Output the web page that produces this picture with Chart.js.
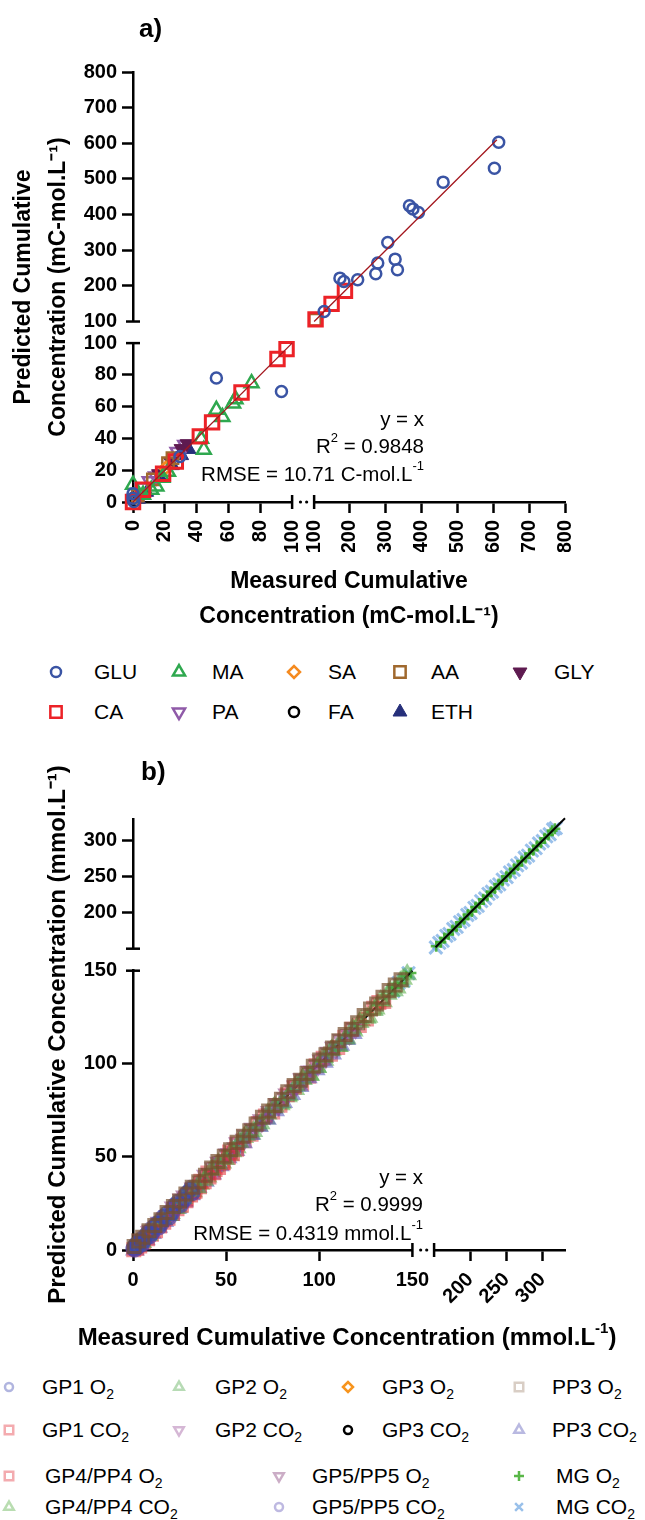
<!DOCTYPE html>
<html>
<head>
<meta charset="utf-8">
<script src="https://cdn.jsdelivr.net/npm/chart.js@4.4.1/dist/chart.umd.min.js"></script>
<style>
  html, body { margin: 0; padding: 0; background: #fff; }
  body { width: 645px; height: 1520px; position: relative; overflow: hidden; font-family: "Liberation Sans", Arial, Helvetica, sans-serif; }
  .panel { position: absolute; left: 0; width: 645px; }
  .legend { position: absolute; left: 0; width: 645px; }
  .legend .item { position: absolute; height: 24px; line-height: 24px; font-size: 21px; color: #000; white-space: nowrap; }
  .legend canvas { position: absolute; }
  .legend sub { font-size: 14px; vertical-align: -5px; line-height: 0; }
</style>
</head>
<body>
<div class="panel" style="top:0;height:640px"><canvas id="chartA"></canvas></div>
<div class="legend" id="legendA" style="top:640px;height:95px"></div>
<div class="panel" style="top:735px;height:635px"><canvas id="chartB"></canvas></div>
<div class="legend" id="legendB" style="top:1370px;height:150px"></div>
<script>
// ---- panel a: carbon per compound, measured vs predicted (mC-mol/L) ----
const gluMeasured  = [0, 0, 0.5, 29.5, 52.4, 93.3, 128, 172, 183, 221.5, 272, 277.5, 305.5, 326, 332.5, 366, 375.5, 391, 460, 603, 615];
const gluPredicted = [5.2, 2.4, 0.3, 28.7, 78.0, 69.6, 128, 221.7, 212, 217, 234, 264, 321.5, 275, 245, 425, 416, 406, 491, 530, 603];
const maMeasured   = [0, 6.3, 11.5, 14.7, 18.5, 22, 42.8, 44.5, 52.4, 56.2, 62.9, 64.4, 74.5];
const maPredicted  = [10.9, 4.6, 7.7, 9.8, 15.2, 19, 39.8, 32.9, 58.0, 53.5, 62.0, 64.7, 74.8];
const saMeasured   = [2.2, 20.5];
const saPredicted  = [2.9, 21.4];
const aaMeasured   = [3, 12.5, 22, 24.8, 102.5];
const aaPredicted  = [4, 14.2, 24.5, 27.6, 105];
const glyMeasured  = [16, 23.5, 30.2, 34];
const glyPredicted = [17.8, 25.5, 33.6, 36.7];
const caMeasured   = [0, 6.3, 18.9, 26.9, 42, 49.7, 68.2, 90.8, 96.5, 104, 148.7, 186];
const caPredicted  = [0, 7.7, 17.8, 25.5, 41.3, 50.1, 68.9, 90, 96.2, 106, 149.6, 186];
const paMeasured   = [6, 10.5, 14.5, 28, 32.8];
const paPredicted  = [9.2, 13, 16, 31.5, 35.8];
const faMeasured   = [1.2];
const faPredicted  = [0.8];
const ethMeasured  = [3.5, 8.6, 17.2, 24.8, 30.6, 35.2];
const ethPredicted = [1.8, 6.1, 15.3, 22.9, 29.2, 33.1];

const ticksALow  = [0, 20, 40, 60, 80, 100];
const ticksAHigh = [100, 200, 300, 400, 500, 600, 700, 800];
const identityALow  = [0, 100];
const identityAHigh = [100, 610];

// ---- panel b: gas phase, measured vs predicted (mmol/L) ----
const gp1O2Measured   = [0.3, 1.2, 2.5, 4.1, 5.8, 7.9, 10.2, 12.6, 15.3, 18.1, 21.0, 24.2, 27.5, 30.8,
                         0.9, 1.8, 3.2, 4.9, 6.8, 9.0, 11.4, 13.9, 16.7, 19.5, 22.6, 25.8, 29.1, 31.9];
const gp1O2Predicted  = [1.1, 2.4, 1.6, 5.3, 4.9, 9.2, 9.0, 14.1, 14.2, 19.6, 19.8, 25.9, 27.0, 32.4,
                         0.2, 3.3, 3.9, 3.1, 7.9, 7.4, 12.6, 12.1, 18.0, 17.4, 24.1, 24.2, 30.7, 30.5];
const gp2O2Measured   = [1.8, 8.4, 15.9, 23.1, 30.6, 38.2, 45.7, 53.4, 60.8, 68.5, 76.1, 83.7, 91.2, 98.9, 106.4, 114.0, 121.7, 129.3, 136.8, 143.5,
                         5.0, 12.2, 19.4, 26.9, 34.4, 42.0, 49.5, 57.1, 64.6, 72.3, 79.9, 87.5, 95.0, 102.6, 110.2, 117.9, 125.5, 133.0, 140.1, 147.2];
const gp2O2Predicted  = [2.6, 7.9, 16.8, 22.4, 31.5, 37.6, 46.3, 52.9, 61.7, 68.0, 76.9, 83.1, 92.0, 98.3, 107.2, 113.4, 122.3, 128.8, 137.5, 144.1,
                         4.1, 13.0, 18.6, 27.8, 33.5, 42.9, 48.7, 58.0, 63.8, 73.2, 79.0, 88.4, 94.1, 103.5, 109.4, 118.8, 124.6, 134.0, 139.3, 147.9];
const gp3O2Measured   = [0.8, 2.9, 5.5];
const gp3O2Predicted  = [1.2, 2.6, 5.9];
const pp3O2Measured   = [0.6, 5.2, 11.7, 18.3, 25.0, 31.8, 38.9, 45.6, 52.4, 59.3, 66.1, 72.8, 79.7, 86.5, 93.4, 100.2, 107.1, 113.9, 120.6, 127.5, 134.2, 140.8,
                         3.1, 8.6, 15.0, 21.7, 28.4, 35.3, 42.2, 49.0, 55.9, 62.7, 69.5, 76.2, 83.1, 90.0, 96.8, 103.6, 110.5, 117.2, 124.1, 130.8, 137.5, 143.9];
const pp3O2Predicted  = [1.9, 6.8, 13.1, 20.2, 26.3, 33.7, 40.2, 47.5, 53.8, 61.1, 67.6, 74.7, 81.0, 88.4, 94.8, 102.0, 108.5, 115.7, 122.1, 129.4, 135.8, 142.3,
                         4.9, 10.3, 16.2, 23.4, 30.1, 36.6, 44.0, 50.3, 57.8, 64.1, 71.3, 77.6, 85.0, 91.2, 98.7, 104.9, 112.4, 118.6, 126.0, 132.1, 139.3, 145.2];
const gp1CO2Measured  = [0.4, 3.6, 7.8, 12.1, 16.5, 21.2, 26.0, 30.9, 35.7, 40.8, 45.9, 51.2, 55.6,
                         2.0, 5.7, 9.9, 14.3, 18.8, 23.6, 28.4, 33.3, 38.2, 43.3, 48.5, 53.4];
const gp1CO2Predicted = [0.1, 2.2, 6.0, 10.4, 14.9, 19.6, 24.1, 29.5, 34.0, 39.2, 44.3, 49.8, 54.1,
                         1.0, 4.3, 8.4, 12.9, 17.0, 22.1, 26.5, 31.6, 36.7, 41.5, 46.9, 51.7];
const gp2CO2Measured  = [4.7, 13.2, 21.8, 30.5, 39.1, 47.6, 56.3, 64.9, 73.4, 82.0, 90.7, 99.3, 107.8, 116.2,
                         9.0, 17.5, 26.1, 34.8, 43.3, 52.0, 60.6, 69.1, 77.7, 86.3, 95.0, 103.5, 112.0, 119.5];
const gp2CO2Predicted = [5.5, 12.7, 22.9, 30.1, 40.0, 47.2, 57.4, 64.5, 74.3, 81.6, 91.8, 98.9, 108.7, 115.6,
                         9.8, 17.0, 27.2, 34.2, 44.1, 51.5, 61.6, 68.6, 78.5, 85.7, 96.0, 103.0, 112.9, 119.0];
const gp3CO2Measured  = [0.5, 1.6];
const gp3CO2Predicted = [0.3, 1.9];
const pp3CO2Measured  = [1.0, 6.9, 13.5, 20.2, 27.4, 34.7, 42.5, 50.8, 59.1, 67.6, 76.3, 85.0, 93.8, 102.5, 111.3, 118.0,
                         4.0, 10.2, 16.8, 23.8, 31.0, 38.6, 46.6, 55.0, 63.3, 71.9, 80.6, 89.4, 98.1, 106.9, 114.6];
const pp3CO2Predicted = [0.2, 5.6, 12.4, 18.8, 26.1, 33.9, 41.0, 49.7, 57.8, 66.4, 74.9, 83.7, 92.6, 101.0, 110.1, 116.4,
                         2.9, 9.0, 15.4, 22.6, 29.8, 37.1, 45.4, 53.6, 62.2, 70.4, 79.3, 88.0, 96.9, 105.4, 113.2];
const gp4O2Measured   = [28.6, 36.4, 44.1, 51.9, 59.7, 67.2, 75.0, 82.8, 90.5, 98.3, 106.0, 113.7, 121.5, 129.2, 134.6,
                         32.5, 40.2, 48.0, 55.8, 63.4, 71.1, 78.9, 86.6, 94.4, 102.1, 109.9, 117.6, 125.3, 132.0];
const gp4O2Predicted  = [27.5, 36.9, 43.2, 52.6, 58.7, 67.9, 74.1, 83.4, 89.6, 98.9, 105.2, 114.3, 120.6, 129.8, 133.4,
                         31.0, 41.3, 46.9, 56.9, 62.2, 72.0, 77.8, 87.5, 93.3, 103.0, 108.8, 118.5, 124.1, 132.9];
const gp5O2Measured   = [9.6, 18.8, 27.9, 37.1, 46.2, 55.4, 64.5, 73.7, 82.8, 92.0, 101.1, 109.5,
                         14.2, 23.3, 32.5, 41.6, 50.8, 59.9, 69.1, 78.2, 87.4, 96.5, 105.3];
const gp5O2Predicted  = [10.5, 18.2, 28.8, 36.5, 47.0, 54.8, 65.3, 73.1, 83.6, 91.4, 101.9, 109.0,
                         14.8, 22.7, 33.2, 41.0, 51.4, 59.3, 69.8, 77.6, 88.0, 95.9, 106.1];
const mgO2Measured    = [140.5, 143.8, 146.7, 149.2, 153.0, 159.4, 164.2, 170.1, 175.6, 180.9, 186.3, 191.4, 197.0, 202.2, 207.5, 212.8, 218.1, 223.5, 228.7, 234.0, 239.4, 244.6, 250.0, 255.2, 260.7, 265.9, 271.2, 276.5, 281.8, 287.1, 292.4, 297.6, 302.9, 308.1, 313.2, 317.0];
const mgO2Predicted   = [140.9, 143.3, 147.2, 148.8, 153.4, 159.0, 164.8, 169.7, 176.1, 180.5, 186.8, 191.0, 197.4, 201.8, 208.0, 212.3, 218.6, 223.1, 229.2, 233.6, 239.9, 244.2, 250.4, 254.8, 261.1, 265.4, 271.7, 276.0, 282.2, 286.7, 292.9, 297.2, 303.3, 307.7, 313.6, 316.6];
const gp4CO2Measured  = [20.4, 28.3, 36.1, 44.0, 51.8, 59.7, 67.5, 75.4, 83.2, 91.1, 98.9, 106.8, 114.6, 122.5, 130.3, 138.2, 145.0,
                         24.3, 32.2, 40.0, 47.9, 55.7, 63.6, 71.4, 79.3, 87.1, 95.0, 102.8, 110.7, 118.5, 126.4, 134.2, 141.6];
const gp4CO2Predicted = [19.8, 29.0, 35.4, 44.8, 51.0, 60.5, 66.8, 76.2, 82.5, 91.9, 98.2, 107.6, 113.9, 123.3, 129.6, 138.9, 145.6,
                         23.1, 31.4, 39.3, 46.8, 55.0, 62.5, 70.6, 78.2, 86.3, 93.9, 102.1, 109.5, 117.8, 125.2, 133.5, 140.8];
const gp5CO2Measured  = [0.2, 1.9, 3.8, 6.1, 8.7, 11.4, 14.2, 17.3, 20.5, 23.8, 27.2, 30.1, 32.4,
                         1.0, 2.8, 4.9, 7.4, 10.0, 12.8, 15.7, 18.9, 22.1, 25.5, 28.6, 31.3];
const gp5CO2Predicted = [0.6, 1.3, 4.6, 5.4, 9.5, 10.8, 15.1, 16.6, 21.4, 23.0, 28.3, 30.9, 31.8,
                         2.1, 3.0, 6.2, 6.8, 11.6, 12.3, 17.4, 18.2, 24.0, 24.9, 30.2, 33.6];
const mgCO2Measured   = [139.8, 142.6, 145.3, 147.9, 152.4, 157.1, 161.8, 166.9, 171.3, 176.5, 181.2, 186.0, 190.7, 195.9, 200.4, 205.8, 210.3, 215.1, 220.6, 225.2, 230.0, 235.4, 240.1, 244.9, 250.3, 255.0, 260.2, 264.8, 270.1, 275.3, 280.0, 285.2, 290.4, 295.1, 300.3, 305.0, 309.8, 314.6, 318.2];
const mgCO2Predicted  = [139.1, 143.4, 144.6, 148.7, 151.6, 158.0, 160.9, 167.8, 170.4, 177.3, 180.3, 186.9, 189.8, 196.8, 199.5, 206.7, 209.4, 216.0, 219.7, 226.1, 229.1, 236.3, 239.2, 245.8, 249.4, 255.9, 259.3, 265.7, 269.2, 276.2, 279.1, 286.1, 289.5, 296.0, 299.4, 305.9, 308.9, 315.5, 317.3];

const ticksBLow  = [0, 50, 100, 150];
const ticksBHigh = [200, 250, 300];
const identityBLow  = [0, 150];
const identityBHigh = [152, 331];

const FONT = '"Liberation Sans", Arial, Helvetica, sans-serif';
const tickFont = { family: FONT, size: 20, weight: 'bold' };
const titleFontA = { family: FONT, size: 23, weight: 'bold', lineHeight: 1.52 };
const titleFontB = { family: FONT, size: 24, weight: 'bold', lineHeight: 1.5 };

const seriesA = [
  { label: 'GLU', x: gluMeasured, y: gluPredicted, style: 'circle', radius: 5.5, legendRadius: 5, width: 2.5, color: '#3a54a4', order: 1 },
  { label: 'MA', x: maMeasured, y: maPredicted, style: 'triangle', radius: 8, legendRadius: 7, width: 2.5, color: '#2fa84f', order: 3 },
  { label: 'SA', x: saMeasured, y: saPredicted, style: 'rectRot', radius: 6, legendRadius: 6, width: 2.5, color: '#f58a1f', order: 4 },
  { label: 'AA', x: aaMeasured, y: aaPredicted, style: 'rect', radius: 8, legendRadius: 8, width: 2.5, color: '#a0692e', order: 4 },
  { label: 'GLY', x: glyMeasured, y: glyPredicted, style: 'triangle', rotation: 180, radius: 8, legendRadius: 8, width: 1, color: '#5e1a50', filled: true, order: 4 },
  { label: 'CA', x: caMeasured, y: caPredicted, style: 'rect', radius: 9.5, legendRadius: 8, width: 3, color: '#ec2227', order: 2 },
  { label: 'PA', x: paMeasured, y: paPredicted, style: 'triangle', rotation: 180, radius: 8, legendRadius: 7, width: 2.5, color: '#8f5aa8', order: 4 },
  { label: 'FA', x: faMeasured, y: faPredicted, style: 'circle', radius: 5, legendRadius: 5, width: 2.5, color: '#000000', order: 4 },
  { label: 'ETH', x: ethMeasured, y: ethPredicted, style: 'triangle', radius: 8, legendRadius: 8, width: 1, color: '#262f7a', filled: true, order: 4 }
];

// translucent markers: rgb + plot alpha; the legend shows them paler
const seriesB = [
  { label: 'GP1 O2', x: gp1O2Measured, y: gp1O2Predicted, style: 'circle', radius: 6.5, legendRadius: 4, width: 3, rgb: '60,70,175', alpha: 0.65, order: 0 },
  { label: 'GP2 O2', x: gp2O2Measured, y: gp2O2Predicted, style: 'triangle', radius: 8.5, legendRadius: 5.5, width: 3, rgb: '75,165,70', alpha: 0.55, order: 0 },
  { label: 'GP3 O2', x: gp3O2Measured, y: gp3O2Predicted, style: 'rectRot', radius: 5, width: 2.5, color: '#f7941d', order: 20 },
  { label: 'PP3 O2', x: pp3O2Measured, y: pp3O2Predicted, style: 'rect', radius: 8.5, legendRadius: 6, width: 3, rgb: '118,78,45', alpha: 0.7, legendAlpha: 0.28, order: -1 },
  { label: 'GP1 CO2', x: gp1CO2Measured, y: gp1CO2Predicted, style: 'rect', radius: 8.5, legendRadius: 6, width: 3, rgb: '228,45,55', alpha: 0.55, order: 0 },
  { label: 'GP2 CO2', x: gp2CO2Measured, y: gp2CO2Predicted, style: 'triangle', rotation: 180, radius: 8.5, legendRadius: 5.5, width: 3, rgb: '150,75,150', alpha: 0.55, order: 0 },
  { label: 'GP3 CO2', x: gp3CO2Measured, y: gp3CO2Predicted, style: 'circle', radius: 4, width: 2.5, color: '#000000', order: 20 },
  { label: 'PP3 CO2', x: pp3CO2Measured, y: pp3CO2Predicted, style: 'triangle', radius: 8.5, legendRadius: 5.5, width: 3, rgb: '80,80,180', alpha: 0.55, order: 0 },
  { label: 'GP4/PP4 O2', x: gp4O2Measured, y: gp4O2Predicted, style: 'rect', radius: 8.5, legendRadius: 6, width: 3, rgb: '225,45,55', alpha: 0.5, order: 0 },
  { label: 'GP5/PP5 O2', x: gp5O2Measured, y: gp5O2Predicted, style: 'triangle', rotation: 180, radius: 8.5, legendRadius: 5.5, width: 3, rgb: '125,50,112', alpha: 0.55, order: 0 },
  { label: 'MG O2', x: mgO2Measured, y: mgO2Predicted, style: 'cross', radius: 5.5, legendRadius: 5, width: 2.5, rgb: '60,170,40', alpha: 0.85, legendAlpha: 0.85, order: 10 },
  { label: 'GP4/PP4 CO2', x: gp4CO2Measured, y: gp4CO2Predicted, style: 'triangle', radius: 8.5, legendRadius: 5.5, width: 3, rgb: '80,170,60', alpha: 0.55, order: 0 },
  { label: 'GP5/PP5 CO2', x: gp5CO2Measured, y: gp5CO2Predicted, style: 'circle', radius: 6.5, legendRadius: 4, width: 3, rgb: '92,80,180', alpha: 0.6, order: 0 },
  { label: 'MG CO2', x: mgCO2Measured, y: mgCO2Predicted, style: 'crossRot', radius: 9, legendRadius: 5.5, width: 3, rgb: '110,165,225', alpha: 0.7, legendAlpha: 0.7, order: 11 }
];

// legend slots: [marker centre x, text left x, row centre y]
const legendSlotsA = [
  [56, 94, 32], [179, 212, 32], [294, 328, 32], [400, 431, 32], [520, 554, 32],
  [56, 94, 72], [179, 212, 72], [294, 328, 72], [400, 431, 72]
];
const legendSlotsB = [
  [9, 42, 17], [179, 215, 17], [348, 382, 17], [519, 552, 17],
  [9, 42, 60], [179, 215, 60], [348, 382, 60], [519, 552, 60],
  [9, 45, 106], [279, 312, 106], [519, 556, 106],
  [9, 45, 137], [279, 312, 137], [519, 556, 137]
];

const plotColor = s => s.rgb ? `rgba(${s.rgb},${s.alpha})` : s.color;
const legendColor = s => s.rgb ? `rgba(${s.rgb},${s.legendAlpha || 0.4})` : s.color;

// one dataset per series and axis segment, so each point lands on the right side of the break
function markerDatasets(series, brk) {
  const out = [];
  series.forEach(s => {
    const groups = {};
    s.x.forEach((xv, i) => {
      const yv = s.y[i];
      const key = (xv > brk ? 'xHigh' : 'xLow') + '|' + (yv > brk ? 'yHigh' : 'yLow');
      (groups[key] = groups[key] || []).push({ x: xv, y: yv });
    });
    const color = plotColor(s);
    const fill = s.filled ? color : 'rgba(0,0,0,0)';
    Object.keys(groups).forEach(key => {
      const [xAxisID, yAxisID] = key.split('|');
      out.push({
        label: s.label, data: groups[key], xAxisID, yAxisID, order: s.order, clip: false,
        borderColor: color, backgroundColor: fill,
        pointStyle: s.style, pointRadius: s.radius, pointRotation: s.rotation || 0,
        pointBorderColor: color, pointBorderWidth: s.width, pointBackgroundColor: fill
      });
    });
  });
  return out;
}

function identityDatasets(low, high, color, width, order) {
  const line = (vals, xAxisID, yAxisID) => ({
    label: 'y = x', data: vals.map(v => ({ x: v, y: v })), xAxisID, yAxisID,
    showLine: true, pointRadius: 0, borderColor: color, borderWidth: width, order, clip: false
  });
  return [line(low, 'xLow', 'yLow'), line(high, 'xHigh', 'yHigh')];
}

function segmentAxis(position, cfg) {
  const horizontal = position === 'bottom';
  return {
    type: 'linear', position, stack: position, stackWeight: cfg.weight,
    min: cfg.min, max: cfg.max,
    border: { display: true, color: '#000', width: 2.5 },
    grid: {
      display: true, drawOnChartArea: false, drawTicks: true, tickLength: 11, tickWidth: 2.5,
      tickColor: c => (c.tick && c.tick.value === cfg.brk) ? 'rgba(0,0,0,0)' : '#000'
    },
    ticks: {
      color: '#000', font: tickFont, padding: horizontal ? 7 : 5, autoSkip: false,
      minRotation: cfg.rotation || 0, maxRotation: cfg.rotation || 0,
      callback: v => String(v)
    },
    afterBuildTicks: s => { s.ticks = cfg.ticks.map(value => ({ value })); },
    afterFit: s => { if (horizontal) s.height = cfg.size; else s.width = cfg.size; }
  };
}

function spacerAxis(position, weight) {
  return {
    type: 'linear', position, stack: position, stackWeight: weight, min: 0, max: 1,
    border: { display: false }, grid: { display: false, drawTicks: false }, ticks: { display: false }
  };
}

function titleAxis(position, text, font, padding, size) {
  return {
    type: 'linear', position, min: 0, max: 1,
    border: { display: false }, grid: { display: false, drawTicks: false }, ticks: { display: false },
    title: { display: !!text, text: text || '', color: '#000', font, padding },
    afterFit: s => { if (position === 'bottom') s.height = size; else s.width = size; }
  };
}

// text with raised parts, anchored at its left, centre or right
function richText(ctx, parts, x, y, size, weight, align) {
  const base = `${weight} ${size}px ${FONT}`;
  const small = `${weight} ${Math.round(size * 0.62)}px ${FONT}`;
  let total = 0;
  parts.forEach(p => { ctx.font = p.sup ? small : base; total += ctx.measureText(p.t).width; });
  let cx = align === 'right' ? x - total : align === 'center' ? x - total / 2 : x;
  parts.forEach(p => {
    ctx.font = p.sup ? small : base;
    ctx.fillText(p.t, cx, p.sup ? y - size * 0.4 : y);
    cx += ctx.measureText(p.t).width;
  });
}

// break caps, the two dots in the x break, panel letter and fit statistics
const panelMarks = {
  id: 'panelMarks',
  afterDraw(chart, args, opts) {
    const { ctx, chartArea, scales } = chart;
    ctx.save();
    ctx.strokeStyle = '#000';
    ctx.fillStyle = '#000';
    ctx.lineWidth = 2.5;
    [scales.xLow.max, scales.xHigh.min].forEach((v, i) => {
      const p = (i ? scales.xHigh : scales.xLow).getPixelForValue(v);
      ctx.beginPath();
      ctx.moveTo(p, chartArea.bottom - 7);
      ctx.lineTo(p, chartArea.bottom + 7);
      ctx.stroke();
    });
    [scales.yLow.max, scales.yHigh.min].forEach((v, i) => {
      const p = (i ? scales.yHigh : scales.yLow).getPixelForValue(v);
      ctx.beginPath();
      ctx.moveTo(chartArea.left - 7, p);
      ctx.lineTo(chartArea.left + 7, p);
      ctx.stroke();
    });
    const a = scales.xLow.right, b = scales.xHigh.left;
    [0.38, 0.66].forEach(f => {
      ctx.beginPath();
      ctx.arc(a + (b - a) * f, chartArea.bottom, 1.6, 0, Math.PI * 2);
      ctx.fill();
    });

    ctx.textBaseline = 'middle';
    ctx.textAlign = 'left';
    ctx.font = `bold 26px ${FONT}`;
    ctx.fillText(opts.letter, opts.letterX, opts.letterY);

    opts.stats.forEach((parts, row) => {
      richText(ctx, parts, opts.statsRight, opts.statsY[row], opts.statsSize, 'normal', 'right');
    });
    if (opts.xTitle) {
      const t = opts.xTitle;
      richText(ctx, t.parts, t.x, t.y, t.size, 'bold', 'center');
    }
    ctx.restore();
  }
};

function buildLegend(el, series, slots) {
  series.forEach((s, i) => {
    const [mx, tx, ry] = slots[i];
    const c = document.createElement('canvas');
    c.width = 28; c.height = 28;
    c.style.left = (mx - 14) + 'px';
    c.style.top = (ry - 14) + 'px';
    const g = c.getContext('2d');
    const color = legendColor(s);
    g.strokeStyle = color;
    g.fillStyle = s.filled ? color : 'rgba(0,0,0,0)';
    g.lineWidth = Math.min(s.width, 2.5);
    Chart.helpers.drawPoint(g, {
      pointStyle: s.style, radius: s.legendRadius || s.radius,
      borderWidth: s.width, rotation: s.rotation || 0
    }, 14, 14);
    el.appendChild(c);
    const t = document.createElement('div');
    t.className = 'item';
    t.style.left = tx + 'px';
    t.style.top = (ry - 12) + 'px';
    t.innerHTML = s.label.replace(/O2$/, 'O<sub>2</sub>');
    el.appendChild(t);
  });
}

const commonOptions = {
  responsive: true, maintainAspectRatio: false, animation: false, events: [],
  plugins: { legend: { display: false }, tooltip: { enabled: false }, colors: { enabled: false } }
};

new Chart(document.getElementById('chartA'), {
  type: 'scatter',
  data: {
    datasets: [
      ...identityDatasets(identityALow, identityAHigh, '#a3161d', 1.3, -1),
      ...markerDatasets(seriesA, 100)
    ]
  },
  options: {
    ...commonOptions,
    layout: { padding: { top: 72, right: 80, left: 0, bottom: 0 } },
    plugins: {
      ...commonOptions.plugins,
      panelMarks: {
        letter: 'a)', letterX: 139, letterY: 30,
        statsRight: 424, statsY: [420, 447, 475], statsSize: 20.5,
        stats: [
          [{ t: 'y = x' }],
          [{ t: 'R' }, { t: '2', sup: true }, { t: ' = 0.9848' }],
          [{ t: 'RMSE = 10.71 C-mol.L' }, { t: '-1', sup: true }]
        ]
      }
    },
    scales: {
      xLow: segmentAxis('bottom', { min: 0, max: 100, weight: 159, ticks: ticksALow, brk: 100, rotation: 90, size: 50 }),
      xGap: spacerAxis('bottom', 22),
      xHigh: segmentAxis('bottom', { min: 100, max: 800, weight: 250.7, ticks: ticksAHigh, brk: 100, rotation: 90, size: 50 }),
      xTitle: titleAxis('bottom', ['Measured Cumulative', 'Concentration (mC-mol.L⁻¹)'], titleFontA, { bottom: 5.5 }, 88),
      yLow: segmentAxis('left', { min: 0, max: 100, weight: 159, ticks: ticksALow, brk: 100, size: 58 }),
      yGap: spacerAxis('left', 21.6),
      yHigh: segmentAxis('left', { min: 100, max: 800, weight: 249.7, ticks: ticksAHigh, brk: 100, size: 58 }),
      yTitle: titleAxis('left', ['Predicted Cumulative', 'Concentration (mC-mol.L⁻¹)'], titleFontA, { top: 6.5 }, 75)
    }
  },
  plugins: [panelMarks]
});

new Chart(document.getElementById('chartB'), {
  type: 'scatter',
  data: {
    datasets: [
      ...identityDatasets(identityBLow, identityBHigh, '#000000', 2, 5),
      ...markerDatasets(seriesB, 150)
    ]
  },
  options: {
    ...commonOptions,
    layout: { padding: { top: 84, right: 80, left: 0, bottom: 0 } },
    plugins: {
      ...commonOptions.plugins,
      panelMarks: {
        letter: 'b)', letterX: 141, letterY: 38,
        statsRight: 423, statsY: [443, 470, 499], statsSize: 20.5,
        stats: [
          [{ t: 'y = x' }],
          [{ t: 'R' }, { t: '2', sup: true }, { t: ' = 0.9999' }],
          [{ t: 'RMSE = 0.4319 mmol.L' }, { t: '-1', sup: true }]
        ],
        // wider than the plot, so drawn here instead of as a squeezed scale title
        xTitle: {
          x: 347, y: 603, size: titleFontB.size,
          parts: [{ t: 'Measured Cumulative Concentration (mmol.L' }, { t: '-1', sup: true }, { t: ')' }]
        }
      }
    },
    scales: {
      xLow: segmentAxis('bottom', { min: 0, max: 150, weight: 279.6, ticks: ticksBLow, brk: 150, rotation: 0, size: 57 }),
      xGap: spacerAxis('bottom', 21.7),
      xHigh: segmentAxis('bottom', { min: 150, max: 331, weight: 131, ticks: ticksBHigh, brk: 150, rotation: 45, size: 57 }),
      xTitle: titleAxis('bottom', null, titleFontB, { bottom: 0 }, 63),
      yLow: segmentAxis('left', { min: 0, max: 150, weight: 279.3, ticks: ticksBLow, brk: 150, size: 58 }),
      yGap: spacerAxis('left', 22),
      yHigh: segmentAxis('left', { min: 150, max: 330, weight: 129.7, ticks: ticksBHigh, brk: 150, size: 58 }),
      yTitle: titleAxis('left', 'Predicted Cumulative Concentration (mmol.L⁻¹)', titleFontB, { top: 40 }, 75)
    }
  },
  plugins: [panelMarks]
});

buildLegend(document.getElementById('legendA'), seriesA, legendSlotsA);
buildLegend(document.getElementById('legendB'), seriesB, legendSlotsB);
</script>
</body>
</html>
